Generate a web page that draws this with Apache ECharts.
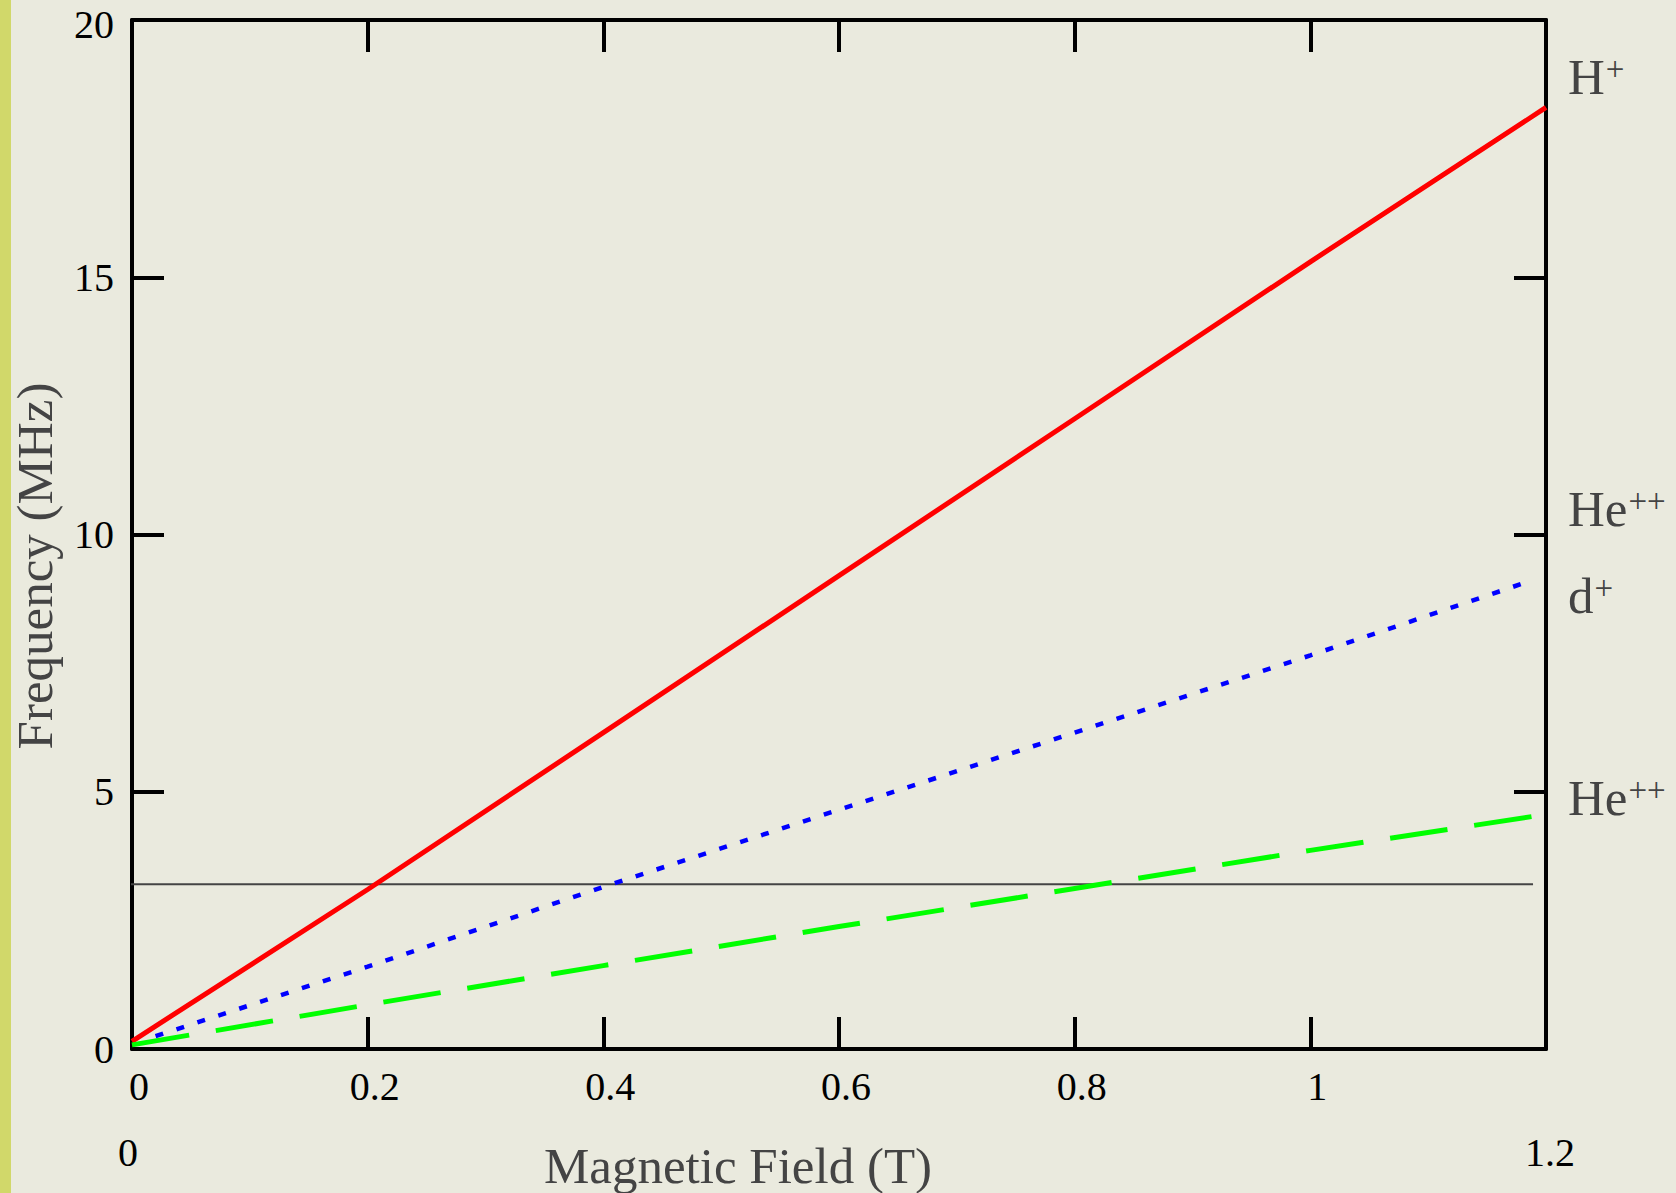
<!DOCTYPE html>
<html>
<head>
<meta charset="utf-8">
<script src="https://cdn.jsdelivr.net/npm/echarts@6/dist/echarts.min.js"></script>
<style>
  html, body { margin: 0; padding: 0; background: #eaeade; }
  #stripe { position: absolute; left: 0; top: 0; width: 11px; height: 1193px; background: #d1d86a; }
  #chart { width: 1676px; height: 1193px; }
</style>
</head>
<body>
<div id="stripe"></div>
<div id="chart"></div>
<script>
// readings: [field (T), frequency (MHz)]
const hPlus = [[0, 0.15], [0.2, 3.1], [0.4, 6.15], [0.6, 9.2], [0.8, 12.25], [1.0, 15.3], [1.2, 18.3]]
const dPlus = [[0.02, 0.25], [0.2, 1.6], [0.4, 3.15], [0.6, 4.65], [0.8, 6.15], [1.0, 7.65], [1.187, 9.1]]
const heLine = [[0, 0.08], [0.2, 0.86], [0.4, 1.62], [0.6, 2.38], [0.8, 3.12], [1.0, 3.86], [1.2, 4.56]]
const refLine = [[-0.008, 3.2], [1.189, 3.2]]

const xTicks = [0, 0.2, 0.4, 0.6, 0.8, 1, 1.2]
const yTicks = [0, 5, 10, 15, 20]
const xRangeLabels = ['0', '1.2']
const sideLabels = [
  { main: 'H', sup: '+', y: 77 },
  { main: 'He', sup: '++', y: 509 },
  { main: 'd', sup: '+', y: 596 },
  { main: 'He', sup: '++', y: 798 },
]

const serif = 'Liberation Serif'
const axisLine = { show: true, onZero: false, lineStyle: { color: '#000', width: 4 } }
const axisTick = { show: true, inside: true, length: 32, lineStyle: { color: '#000', width: 4 } }

const chart = echarts.init(document.getElementById('chart'), null, { renderer: 'svg' })

chart.setOption({
  animation: false,
  backgroundColor: 'transparent',
  grid: { left: 132, top: 20, right: 130, bottom: 144, containLabel: false, outerBoundsMode: 'none' },
  xAxis: [
    {
      type: 'value', position: 'bottom', min: 0, max: 1.2, interval: 0.2,
      axisLine, axisTick, splitLine: { show: false },
      axisLabel: {
        margin: 17, padding: [0, 0, 0, 14], color: '#000', fontFamily: serif, fontSize: 40,
        customValues: xTicks.slice(0, 6),
        formatter: (v) => String(+v.toFixed(1)),
      },
    },
    {
      type: 'value', position: 'top', min: 0, max: 1.2, interval: 0.2,
      axisLine, axisTick, splitLine: { show: false }, axisLabel: { show: false },
    },
  ],
  yAxis: [
    {
      type: 'value', position: 'left', min: 0, max: 20, interval: 5,
      axisLine, axisTick, splitLine: { show: false },
      axisLabel: {
        margin: 18, color: '#000', fontFamily: serif, fontSize: 40, lineHeight: 30, customValues: yTicks,
        // the top label sits at the very edge of the page, nudge it down a little
        formatter: (v) => (v === 20 ? '{t|20}' : String(v)),
        rich: { t: { fontFamily: serif, fontSize: 40, lineHeight: 30, color: '#000', padding: [8, 0, 0, 0] } },
      },
    },
    {
      type: 'value', position: 'right', min: 0, max: 20, interval: 5,
      axisLine, axisTick, splitLine: { show: false }, axisLabel: { show: false },
    },
  ],
  series: [
    {
      name: 'ref', type: 'line', data: refLine, clip: false, showSymbol: false, silent: true,
      lineStyle: { color: '#444', width: 2 },
    },
    {
      name: 'H+', type: 'line', data: hPlus, showSymbol: false,
      lineStyle: { color: '#ff0000', width: 5 },
    },
    {
      name: 'd+', type: 'line', data: dPlus, showSymbol: false,
      lineStyle: { color: '#0000ff', width: 4.5, type: [8, 14] },
    },
    {
      name: 'He++', type: 'line', data: heLine, showSymbol: false,
      lineStyle: { color: '#00ff00', width: 5, type: [58, 27] },
    },
  ],
  graphic: [
    ...sideLabels.map((s) => ({
      type: 'text', x: 1568, y: s.y,
      style: {
        text: '{m|' + s.main + '}{s|' + s.sup + '}',
        verticalAlign: 'middle', align: 'left',
        rich: {
          m: { fontFamily: serif, fontSize: 51, fill: '#444', color: '#444' },
          s: { fontFamily: serif, fontSize: 33, fill: '#444', color: '#444', verticalAlign: 'top', padding: [1, 0, 0, 1] },
        },
      },
    })),
    {
      type: 'text', x: 128, y: 1152,
      style: { text: xRangeLabels[0], font: '40px ' + serif, fill: '#000', align: 'center', verticalAlign: 'middle' },
    },
    {
      type: 'text', x: 1550, y: 1152,
      style: { text: xRangeLabels[1], font: '40px ' + serif, fill: '#000', align: 'center', verticalAlign: 'middle' },
    },
    {
      type: 'text', x: 738, y: 1166,
      style: { text: 'Magnetic Field (T)', font: '51px ' + serif, fill: '#444', align: 'center', verticalAlign: 'middle' },
    },
    {
      type: 'text', x: 35, y: 566, rotation: Math.PI / 2,
      style: { text: 'Frequency (MHz)', font: '51px ' + serif, fill: '#444', align: 'center', verticalAlign: 'middle' },
    },
  ],
})
</script>
</body>
</html>
